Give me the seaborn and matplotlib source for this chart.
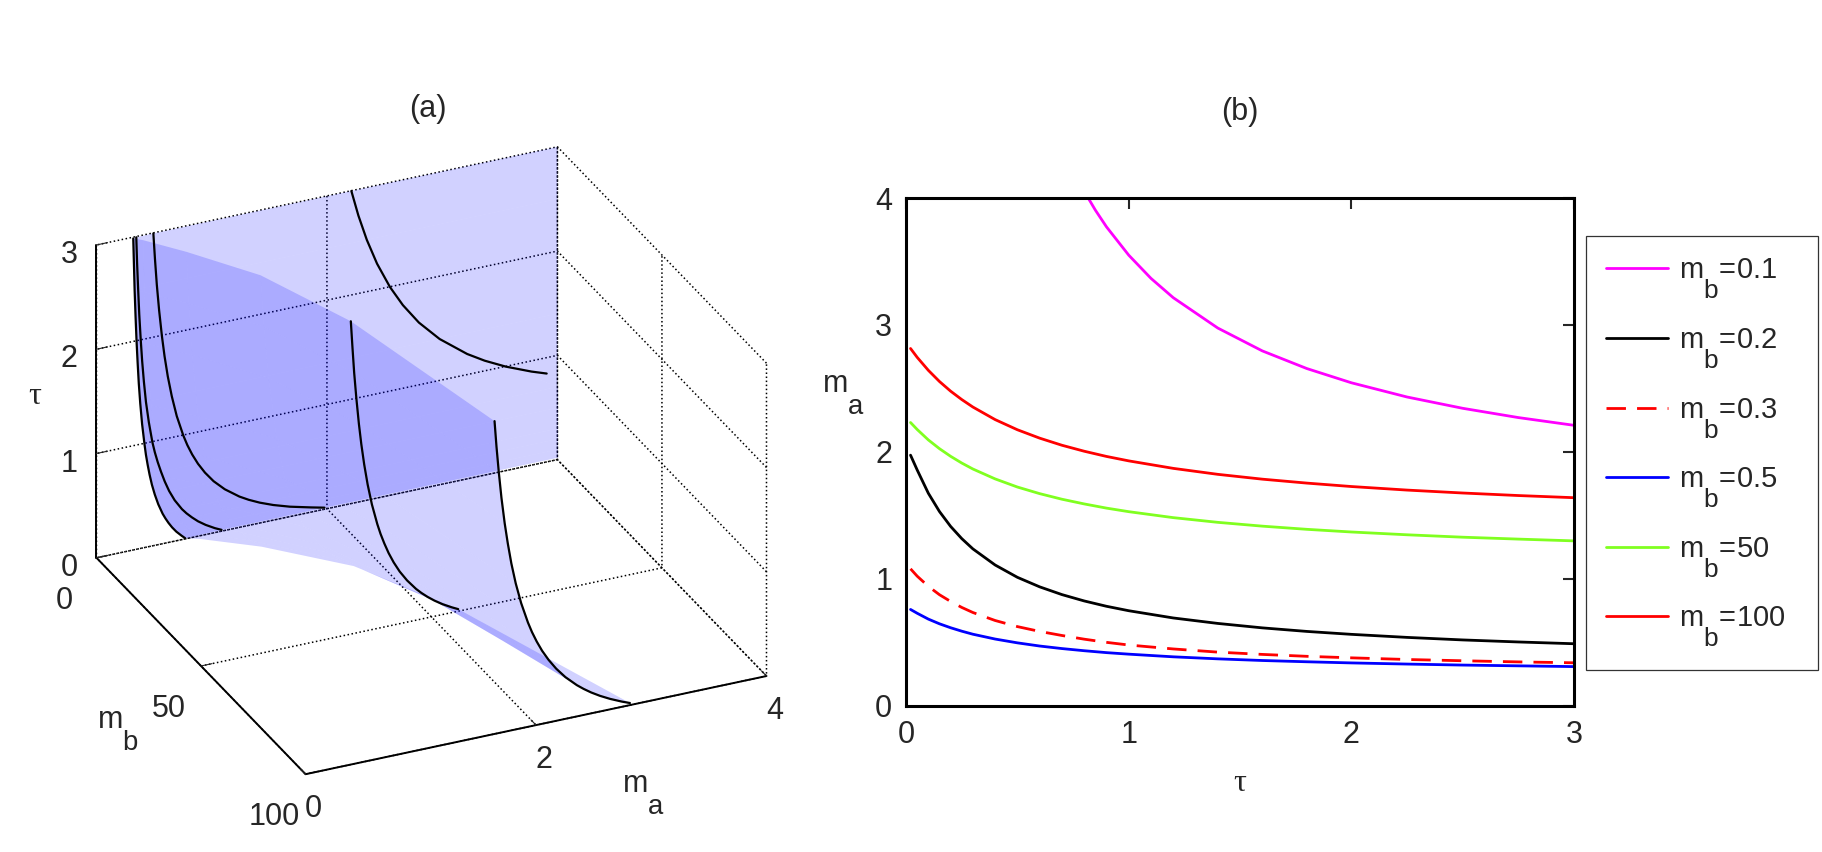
import numpy as np
import pandas as pd
import matplotlib
matplotlib.use("Agg")
import matplotlib.pyplot as plt
import matplotlib._mathtext as _mt
import seaborn as sns

tau = [0.02, 0.05, 0.1, 0.15, 0.2, 0.25, 0.3, 0.4, 0.5, 0.6, 0.7, 0.8, 0.9, 1.0,
       1.2, 1.4, 1.6, 1.8, 2.0, 2.25, 2.5, 2.75, 3.0]

# m_a(tau) for each m_b
ma_02 = [1.975, 1.858, 1.675, 1.531, 1.414, 1.318, 1.237, 1.110, 1.013, 0.938, 0.877, 0.827,
         0.785, 0.750, 0.693, 0.650, 0.615, 0.587, 0.564, 0.540, 0.520, 0.504, 0.490]
ma_03 = [1.080, 1.022, 0.942, 0.876, 0.823, 0.776, 0.736, 0.673, 0.625, 0.587, 0.555, 0.526,
         0.501, 0.480, 0.449, 0.424, 0.406, 0.391, 0.379, 0.366, 0.356, 0.347, 0.340]
ma_05 = [0.760, 0.730, 0.684, 0.647, 0.616, 0.589, 0.565, 0.527, 0.497, 0.472, 0.452, 0.435,
         0.420, 0.408, 0.387, 0.371, 0.358, 0.348, 0.339, 0.330, 0.322, 0.316, 0.310]
ma_50 = [2.232, 2.177, 2.095, 2.026, 1.966, 1.913, 1.866, 1.788, 1.724, 1.672, 1.628, 1.591,
         1.558, 1.530, 1.483, 1.446, 1.416, 1.391, 1.370, 1.348, 1.329, 1.314, 1.300]
ma_100 = [2.815, 2.745, 2.643, 2.555, 2.479, 2.413, 2.354, 2.255, 2.175, 2.109, 2.053, 2.006,
          1.965, 1.930, 1.871, 1.824, 1.786, 1.755, 1.728, 1.700, 1.677, 1.657, 1.640]

# m_b = 0.1 only enters the frame (m_a < 4) after tau ~ 0.8
tau_01 = [0.75, 0.8, 0.85, 0.9, 1.0, 1.1, 1.2, 1.4, 1.6, 1.8, 2.0, 2.25, 2.5, 2.75, 3.0]
ma_01 = [4.220, 4.053, 3.905, 3.773, 3.550, 3.367, 3.215, 2.976, 2.796, 2.657, 2.545, 2.433,
         2.344, 2.271, 2.210]

# surface of panel (a): coarser tau grid, m_a capped at the top of the box (4)
tau_srf = [0.02, 0.1, 0.2, 0.3, 0.5, 0.7, 1.0, 1.4, 2.0, 2.5, 3.0]
ma_0_srf = [4.0] * 11
ma_01_srf = [4.0, 4.0, 4.0, 4.0, 4.0, 4.0, 3.55, 2.98, 2.55, 2.34, 2.21]
ma_2_srf = [0.86, 0.79, 0.72, 0.66, 0.58, 0.53, 0.48, 0.44, 0.40, 0.38, 0.37]
ma_10_srf = [1.25, 1.16, 1.07, 1.00, 0.89, 0.82, 0.76, 0.70, 0.65, 0.62, 0.60]
ma_25_srf = [1.78, 1.67, 1.56, 1.48, 1.35, 1.26, 1.18, 1.11, 1.04, 1.00, 0.97]

labels = ["0.1", "0.2", "0.3", "0.5", "50", "100"]
colors = ["#ff00ff", "#000000", "#ff0000", "#0000ff", "#80ff20", "#ff0000"]

sns.set_style("white")
plt.rcParams["font.family"] = ["Liberation Sans", "DejaVu Sans"]
plt.rcParams["mathtext.fontset"] = "custom"
plt.rcParams["mathtext.rm"] = "Liberation Sans"
plt.rcParams["mathtext.it"] = "Liberation Sans"
# MATLAB-like subscripts: nearly full size and dropped well below the baseline
_mt.SHRINK_FACTOR = 0.9
_mt.FontConstantsBase.sub1 = 1.3

fig = plt.figure(figsize=(18.22, 8.52), dpi=100)

# ---------------- panel (a) ----------------
ax = fig.add_axes([-0.0295, -0.054, 0.52, 1.0], projection="3d")
ax.set_proj_type("ortho")
ax.view_init(elev=28, azim=-24.4)
ax.set_box_aspect((1, 1, 0.70), zoom=0.91)

idx = [tau.index(t) for t in tau_srf]
pick = lambda m: [m[i] for i in idx]
mb_rows = [0, 0.1, 0.2, 0.3, 0.5, 2, 10, 25, 50, 100]
MA = np.array([ma_0_srf, ma_01_srf, pick(ma_02), pick(ma_03), pick(ma_05),
               ma_2_srf, ma_10_srf, ma_25_srf, pick(ma_50), pick(ma_100)])
MB = np.repeat(np.array(mb_rows, dtype=float)[:, None], len(tau_srf), axis=1)
TT = np.tile(np.array(tau_srf), (len(mb_rows), 1))
ax.plot_surface(MB, MA, TT, color=(0, 0, 1), alpha=0.18, shade=False,
                linewidth=0, edgecolor="none", antialiased=True)

curves = {0.2: ma_02, 0.3: ma_03, 0.5: ma_05, 50: ma_50, 100: ma_100}
for mb, m in curves.items():
    ax.plot([mb] * len(tau), m, tau, color="k", lw=1.6)
t01 = [t for t, m in zip(tau_01, ma_01) if m <= 4.0]
m01 = [m for m in ma_01 if m <= 4.0]
ax.plot([0.1] * len(t01), m01, t01, color="k", lw=1.6)

ax.set_xlim(0, 100)
ax.set_ylim(0, 4)
ax.set_zlim(0, 3)
ax.set_xticks([0, 50, 100])
ax.set_yticks([0, 2, 4])
ax.set_zticks([0, 1, 2, 3])
for a in (ax.xaxis, ax.yaxis, ax.zaxis):
    a.pane.set_facecolor((1, 1, 1, 0))
    a.pane.set_edgecolor((1, 1, 1, 0))
    a._axinfo["grid"].update(color="k", linewidth=1.1, linestyle=":")
    a._axinfo["tick"]["inward_factor"] = 0.0
    a._axinfo["tick"]["outward_factor"] = 0.3
    a.line.set_color("k")
    a.line.set_linewidth(1.4)
ax.zaxis.set_ticks_position("lower")
ax.tick_params(labelsize=22)
ax.xaxis.set_tick_params(pad=14)
ax.yaxis.set_tick_params(pad=4)
ax.zaxis.set_tick_params(pad=5)
fig.text(0.065, 0.141, r"$\mathregular{m_b}$", fontsize=22, ha="center", va="center")
fig.text(0.353, 0.066, r"$\mathregular{m_a}$", fontsize=22, ha="center", va="center")
fig.text(0.019, 0.535, "τ", fontsize=23, family="Liberation Serif", ha="center", va="center")
fig.text(0.235, 0.872, "(a)", fontsize=22, ha="center", va="center")

# ---------------- panel (b) ----------------
ax2 = fig.add_axes([0.4973, 0.1714, 0.3666, 0.5962])
rows = []
for lab, t, m in [("0.1", tau_01, ma_01), ("0.2", tau, ma_02), ("0.3", tau, ma_03),
                  ("0.5", tau, ma_05), ("50", tau, ma_50), ("100", tau, ma_100)]:
    for ti, mi in zip(t, m):
        rows.append({"tau": ti, "m_a": mi, "m_b": lab})
df = pd.DataFrame(rows)
dashes = {lab: "" for lab in labels}
dashes["0.3"] = (7, 4)
sns.lineplot(data=df, x="tau", y="m_a", hue="m_b", style="m_b", hue_order=labels,
             style_order=labels, palette=dict(zip(labels, colors)), dashes=dashes,
             lw=2.0, errorbar=None, legend=False, ax=ax2)
ax2.set_xlim(0, 3)
ax2.set_ylim(0, 4)
ax2.set_xticks([0, 1, 2, 3])
ax2.set_yticks([0, 1, 2, 3, 4])
ax2.tick_params(direction="in", top=True, right=True, length=8, width=1.5,
                labelsize=22, pad=10)
for s in ax2.spines.values():
    s.set_linewidth(2.2)
    s.set_color("k")
ax2.set_xlabel("τ", fontsize=23, family="Liberation Serif", labelpad=14)
ax2.set_ylabel(r"$\mathregular{m_a}$", fontsize=22, rotation=0, va="center", ha="center")
ax2.yaxis.set_label_coords(-0.093, 0.612)
fig.text(0.6806, 0.868, "(b)", fontsize=22, ha="center", va="center")

handles = ax2.get_lines()[:6]
leg = ax2.legend(handles, [r"$\mathregular{m_b}$=" + l for l in labels],
                 loc="upper left", bbox_to_anchor=(0.8705, 0.2148, 0.1275, 0.508),
                 bbox_transform=fig.transFigure, mode="expand", borderaxespad=0,
                 fontsize=21, frameon=True, fancybox=False, edgecolor="k",
                 handlelength=2.1, handletextpad=0.4, labelspacing=0.85, borderpad=0.7)
leg.get_frame().set_linewidth(0.9)

fig.savefig("out.png", dpi=100)
